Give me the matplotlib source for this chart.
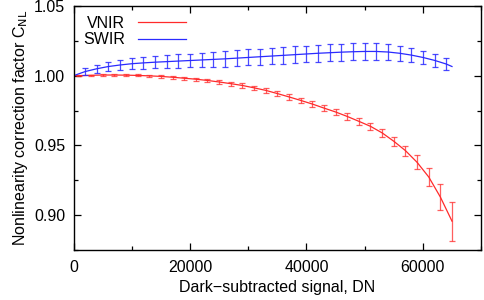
import numpy as np
from matplotlib import pyplot as plt
from matplotlib.ticker import MultipleLocator, FormatStrFormatter

plt.rcParams['font.family'] = ['Liberation Sans', 'DejaVu Sans']

# VNIR points (odd thousands of DN)
vnir_x = [1000, 3000, 5000, 7000, 9000, 11000, 13000, 15000, 17000, 19000,
          21000, 23000, 25000, 27000, 29000, 31000, 33000, 35000, 37000, 39000,
          41000, 43000, 45000, 47000, 49000, 51000, 53000, 55000, 57000, 59000,
          61000, 63000, 65000]
vnir_y = [1.0000, 1.0003, 1.0005, 1.0005, 1.0004, 1.0002, 0.9999, 0.9995, 0.9989, 0.9982,
          0.9975, 0.9966, 0.9955, 0.9943, 0.9930, 0.9913, 0.9895, 0.9872, 0.9848, 0.9823,
          0.9797, 0.9768, 0.9740, 0.9708, 0.9673, 0.9637, 0.9590, 0.9530, 0.9463, 0.9379,
          0.9274, 0.9130, 0.8957]
vnir_err = [0.0002, 0.0003, 0.0004, 0.0005, 0.0006, 0.0007, 0.0008, 0.0009, 0.0010, 0.0011,
            0.0012, 0.0013, 0.0013, 0.0014, 0.0015, 0.0016, 0.0017, 0.0018, 0.0019, 0.0020,
            0.0021, 0.0022, 0.0023, 0.0024, 0.0025, 0.0027, 0.0030, 0.0033, 0.0036, 0.0050,
            0.0066, 0.0090, 0.0140]

# SWIR points (even thousands of DN)
swir_x = [2000, 4000, 6000, 8000, 10000, 12000, 14000, 16000, 18000, 20000,
          22000, 24000, 26000, 28000, 30000, 32000, 34000, 36000, 38000, 40000,
          42000, 44000, 46000, 48000, 50000, 52000, 54000, 56000, 58000, 60000,
          62000, 64000]
swir_y = [1.0030, 1.0050, 1.0066, 1.0077, 1.0086, 1.0092, 1.0097, 1.0101, 1.0105, 1.0109,
          1.0113, 1.0117, 1.0121, 1.0126, 1.0131, 1.0136, 1.0141, 1.0146, 1.0151, 1.0156,
          1.0161, 1.0165, 1.0169, 1.0172, 1.0174, 1.0174, 1.0170, 1.0161, 1.0148, 1.0131,
          1.0110, 1.0084]
swir_err = [0.0025, 0.0030, 0.0035, 0.0038, 0.0040, 0.0042, 0.0044, 0.0046, 0.0048, 0.0050,
            0.0052, 0.0054, 0.0055, 0.0056, 0.0057, 0.0058, 0.0058, 0.0059, 0.0059, 0.0060,
            0.0060, 0.0060, 0.0060, 0.0060, 0.0060, 0.0059, 0.0057, 0.0055, 0.0052, 0.0049,
            0.0046, 0.0042]

# curve end points
vnir_line_x = [0] + vnir_x
vnir_line_y = [1.0] + vnir_y
swir_line_x = [0] + swir_x + [65000]
swir_line_y = [1.0] + swir_y + [1.0066]

red = '#ff2a2a'
blue = '#2a2aff'
fs = 11.5

fig = plt.figure(figsize=(4.84, 3.0), dpi=100)
ax = fig.add_axes([0.152, 0.1667, 0.842, 0.8133])

ax.plot(vnir_line_x, vnir_line_y, color=red, lw=0.9, label='VNIR')
ax.errorbar(vnir_x, vnir_y, yerr=vnir_err, fmt='none', ecolor=red, elinewidth=0.9,
            capsize=2.5, capthick=0.9, alpha=0.75)
ax.plot(swir_line_x, swir_line_y, color=blue, lw=0.9, label='SWIR')
ax.errorbar(swir_x, swir_y, yerr=swir_err, fmt='none', ecolor=blue, elinewidth=0.9,
            capsize=2.5, capthick=0.9, alpha=0.85)

ax.set_xlim(0, 70000)
ax.set_ylim(0.875, 1.05)
ax.xaxis.set_major_locator(MultipleLocator(20000))
ax.xaxis.set_minor_locator(MultipleLocator(10000))
ax.yaxis.set_major_locator(MultipleLocator(0.05))
ax.yaxis.set_minor_locator(MultipleLocator(0.025))
ax.yaxis.set_major_formatter(FormatStrFormatter('%.2f'))
ax.tick_params(which='both', direction='in', top=True, right=True, labelsize=fs, width=0.9)
ax.tick_params(which='major', length=5)
ax.tick_params(axis='x', which='major', pad=7)
ax.tick_params(axis='y', which='major', pad=6)
ax.tick_params(which='minor', length=3)
for s in ax.spines.values():
    s.set_linewidth(1.0)

ax.set_xlabel('Dark\u2212subtracted signal, DN', fontsize=fs, labelpad=4)
ax.set_ylabel('Nonlinearity correction factor C$_{\\mathrm{NL}}$', fontsize=fs, labelpad=3)

ax.legend(loc='upper left', frameon=False, fontsize=fs, markerfirst=False,
          handlelength=3.0, borderaxespad=0.2, handletextpad=0.8, labelspacing=0.1,
          bbox_to_anchor=(0.0, 1.0))

fig.savefig('out.png', dpi=100)
